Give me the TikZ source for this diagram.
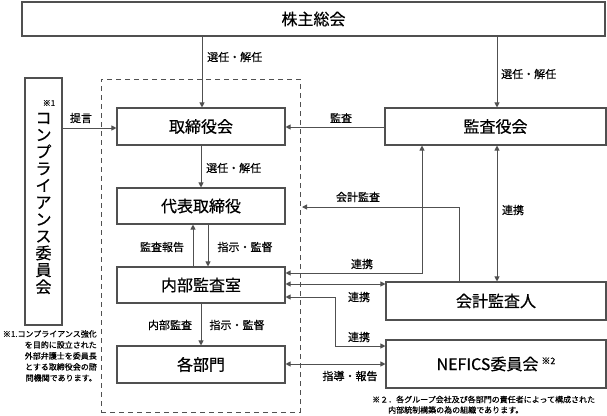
\documentclass[tikz,border=0pt]{standalone}
\usepackage{fontspec}
\setmainfont{Noto Sans CJK JP}[FakeBold=0.5]
\usetikzlibrary{arrows.meta}
\definecolor{linec}{RGB}{80,80,80}
\tikzset{
  box/.style={draw=linec, line width=1.1pt, fill=white, inner sep=0pt, font=\fontsize{16}{18}\selectfont},
  lbl/.style={inner sep=0pt, font=\fontsize{11}{12}\selectfont},
  note/.style={inner sep=0pt, font=\fontsize{8}{11}\selectfont},
  arr/.style={draw=linec, line width=1pt, -{Triangle[length=5pt,width=5pt]}},
  arrs/.style={draw=linec, line width=1pt, {Triangle[length=5pt,width=5pt]}-{Triangle[length=5pt,width=5pt]}},
  grpbox/.style={draw=linec, line width=0.9pt, dash pattern=on 5pt off 4pt, inner sep=0pt}
}
\begin{document}
\begin{tikzpicture}[x=1pt,y=-1pt]
\useasboundingbox (0,0) rectangle (607,415);
% group (dashed)
\node[grpbox, minimum width=199pt, minimum height=333pt] (grp) at (200.5,245.5) {};
% boxes
\node[box, minimum width=583pt, minimum height=34pt] (top) at (313.5,19) {株主総会};
\node[box, minimum width=37pt, minimum height=247pt] (comp) at (43.5,201.5) {};
\node[inner sep=0pt, align=center, font=\fontsize{16}{16.9}\selectfont] (comptext) at (43.5,203.5)
  {コ\\ン\\プ\\ラ\\イ\\ア\\ン\\ス\\委\\員\\会};
\node[note] (comp1) at (49,103) {※1};
\node[box, minimum width=168pt, minimum height=37pt] (tori) at (201,126.5) {取締役会};
\node[box, minimum width=168pt, minimum height=36pt] (daihyo) at (201,206) {代表取締役};
\node[box, minimum width=168pt, minimum height=36pt] (naibu) at (201,285) {内部監査室};
\node[box, minimum width=168pt, minimum height=37pt] (kakubu) at (201,364.5) {各部門};
\node[box, minimum width=221pt, minimum height=37pt] (kansa) at (495.5,126.5) {監査役会};
\node[box, minimum width=220pt, minimum height=38pt] (kaikei) at (496,301) {会計監査人};
\node[box, minimum width=220pt, minimum height=48pt] (nefics) at (496,364)
  {NEFICS委員会\hspace{3pt}\raisebox{6pt}{\fontsize{9}{9}\selectfont ※2}};
% connectors
\draw[arr] (top.south -| 202,0) -- (tori.north -| 202,0);
\draw[arr] (top.south -| 497,0) -- (kansa.north -| 497,0);
\draw[arr] (comp.east |- 0,128) -- (tori.west |- 0,128);
\draw[arr] (kansa.west |- 0,127) -- (tori.east |- 0,127);
\draw[arr] (tori.south -| 201,0) -- (daihyo.north -| 201,0);
\draw[arr] (naibu.north -| 193,0) -- (daihyo.south -| 193,0);
\draw[arr] (daihyo.south -| 208,0) -- (naibu.north -| 208,0);
\draw[arr] (naibu.south -| 201,0) -- (kakubu.north -| 201,0);
\draw[arrs] (kansa.south -| 422,0) -- (422,273) -- (naibu.east |- 0,273);
\draw[arrs] (naibu.east |- 0,284) -- (kaikei.west |- 0,284);
\draw[arrs] (naibu.east |- 0,297) -- (335,297) -- (335,346) -- (nefics.west |- 0,346);
\draw[arrs] (kakubu.east |- 0,364) -- (nefics.west |- 0,364);
\draw[arrs] (kansa.south -| 497,0) -- (kaikei.north -| 497,0);
\coordinate (kaend) at (302,207);
\draw[arr] (kaikei.north -| 459,0) -- (459,207) -- (kaend);
% labels
\node[lbl, anchor=west] (l1) at (207,57) {選任・解任};
\node[lbl, anchor=west] (l2) at (501,74) {選任・解任};
\node[lbl] (l3) at (81,118) {提言};
\node[lbl] (l4) at (341,118) {監査};
\node[lbl, anchor=west] (l5) at (206,168) {選任・解任};
\node[lbl] (l6) at (358,197) {会計監査};
\node[lbl] (l7) at (162,247) {監査報告};
\node[lbl] (l8) at (245,247) {指示・監督};
\node[lbl] (l9) at (513,210) {連携};
\node[lbl] (l10) at (362,264) {連携};
\node[lbl] (l11) at (359,297) {連携};
\node[lbl] (l12) at (359,337) {連携};
\node[lbl] (l13) at (170,325) {内部監査};
\node[lbl] (l14) at (237,325) {指示・監督};
\node[lbl] (l15) at (350,376) {指導・報告};
% notes
\node[note, align=right, anchor=north east] (note1) at (97,330)
  {※1.コンプライアンス強化\\を目的に設立された\\外部弁護士を委員長\\とする取締役会の諮\\問機関であります。};
\node[note, anchor=west] (note2a) at (372,399.5) {※２．各グループ会社及び各部門の責任者によって構成された};
\node[note, anchor=west] (note2b) at (388,410) {内部統制構築の為の組織であります。};
\end{tikzpicture}
\end{document}
